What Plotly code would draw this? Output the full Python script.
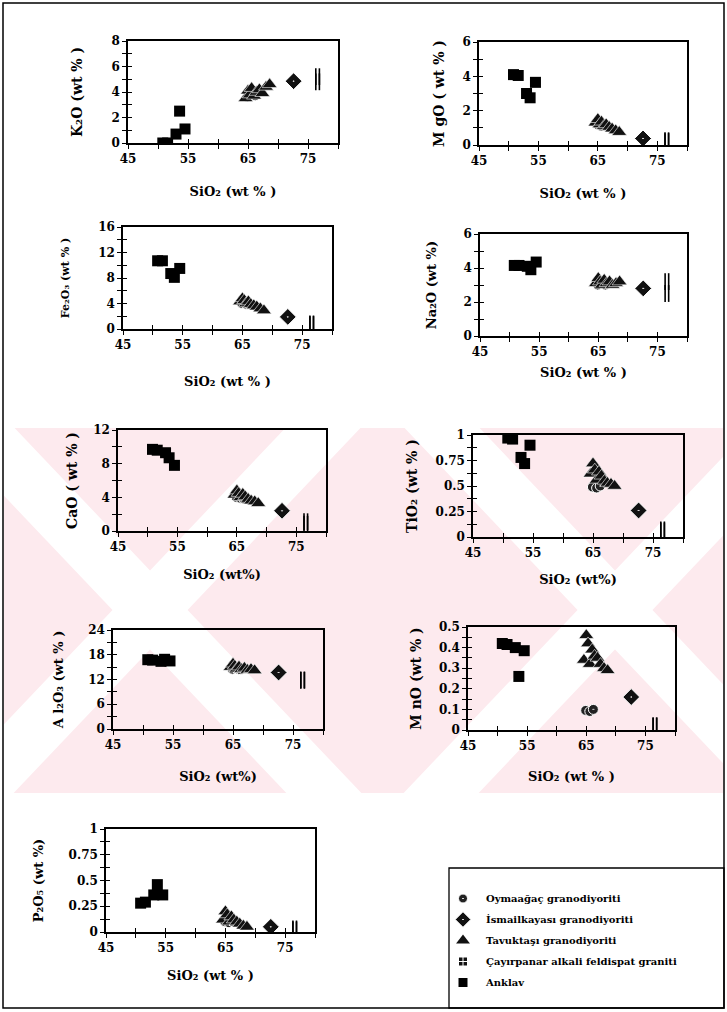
import plotly.graph_objects as go

W, H = 727, 1012

# ---------------- data ----------------
SIO2_OYM = [64.9, 65.6, 66.2]
SIO2_ISM = [72.6]
SIO2_TAV = [64.6, 65.0, 65.3, 65.6, 66.0, 66.4, 66.9, 67.4, 68.0, 68.6]
SIO2_CAY = [76.3, 76.9, 76.3, 76.9]
SIO2_ANK = [50.8, 51.6, 53.0, 53.6, 54.5]

K2O_OYM = [3.6, 3.8, 3.7]
K2O_ISM = [4.85]
K2O_TAV = [3.5, 4.1, 3.8, 4.3, 3.7, 4.0, 4.2, 3.9, 4.4, 4.6]
K2O_CAY = [4.8, 4.8, 5.2, 5.2]
K2O_ANK = [0.0, 0.0, 0.7, 2.5, 1.1]

MGO_OYM = [1.2, 1.1, 1.15]
MGO_ISM = [0.38]
MGO_TAV = [1.3, 1.5, 1.2, 1.35, 1.1, 1.2, 1.05, 0.95, 0.85, 0.75]
MGO_CAY = [0.2, 0.2, 0.25, 0.25]
MGO_ANK = [4.1, 4.05, 3.0, 2.75, 3.65]

FE2O3_OYM = [4.0, 3.9, 3.8]
FE2O3_ISM = [1.9]
FE2O3_TAV = [4.3, 4.8, 4.5, 4.0, 4.3, 3.9, 3.7, 3.5, 3.2, 2.9]
FE2O3_CAY = [0.7, 0.7, 0.8, 0.8]
FE2O3_ANK = [10.7, 10.7, 8.7, 8.1, 9.5]

NA2O_OYM = [3.0, 3.1, 3.0]
NA2O_ISM = [2.8]
NA2O_TAV = [3.1, 3.4, 3.2, 3.0, 3.3, 3.1, 3.2, 3.0, 3.1, 3.2]
NA2O_CAY = [2.5, 2.5, 3.2, 3.2]
NA2O_ANK = [4.15, 4.15, 4.1, 3.9, 4.35]

CAO_OYM = [4.0, 3.9, 3.8]
CAO_ISM = [2.4]
CAO_TAV = [4.3, 4.8, 4.5, 4.0, 4.4, 4.1, 3.8, 3.6, 3.5, 3.3]
CAO_CAY = [0.8, 0.8, 1.1, 1.1]
CAO_ANK = [9.7, 9.6, 9.3, 8.7, 7.8]

TIO2_OYM = [0.49, 0.48, 0.50]
TIO2_ISM = [0.26]
TIO2_TAV = [0.62, 0.72, 0.66, 0.56, 0.64, 0.60, 0.55, 0.53, 0.52, 0.50]
TIO2_CAY = [0.06, 0.06, 0.07, 0.07]
TIO2_ANK = [0.97, 0.96, 0.78, 0.72, 0.90]

AL2O3_OYM = [14.5, 14.6, 14.4]
AL2O3_ISM = [13.7]
AL2O3_TAV = [15.0, 15.8, 15.3, 14.6, 15.1, 14.5, 14.8, 14.3, 14.5, 14.2]
AL2O3_CAY = [11.8, 11.8, 11.9, 11.9]
AL2O3_ANK = [16.8, 16.7, 16.4, 16.9, 16.5]

MNO_OYM = [0.095, 0.09, 0.10]
MNO_ISM = [0.16]
MNO_TAV = [0.34, 0.46, 0.42, 0.32, 0.39, 0.36, 0.35, 0.32, 0.30, 0.29]
MNO_CAY = [0.02, 0.02, 0.02, 0.02]
MNO_ANK = [0.42, 0.415, 0.40, 0.26, 0.385]

P2O5_OYM = [0.10, 0.09, 0.10]
P2O5_ISM = [0.05]
P2O5_TAV = [0.12, 0.20, 0.17, 0.10, 0.15, 0.12, 0.10, 0.08, 0.06, 0.05]
P2O5_CAY = [0.02, 0.02, 0.03, 0.03]
P2O5_ANK = [0.28, 0.29, 0.36, 0.46, 0.36]

GROUPS = ["Oymaağaç granodiyoriti", "İsmailkayası granodiyoriti",
          "Tavuktaşı granodiyoriti", "Çayırpanar alkali feldispat graniti", "Anklav"]
SIO2 = [SIO2_OYM, SIO2_ISM, SIO2_TAV, SIO2_CAY, SIO2_ANK]

X_RANGE = [45, 80]

# ---------------- panel layout ----------------
FONT = "DejaVu Serif"
panels = [
    dict(vals=[K2O_OYM, K2O_ISM, K2O_TAV, K2O_CAY, K2O_ANK], xd=(128, 338), yd=(41, 143),
         yr=8, yt=[0, 2, 4, 6, 8], ym=1, ttl="K₂O (wt % )", ys=26,
         xt="SiO₂ (wt % )", xs=22, tfs=14),
    dict(vals=[MGO_OYM, MGO_ISM, MGO_TAV, MGO_CAY, MGO_ANK], xd=(479, 687), yd=(42, 145),
         yr=6, yt=[0, 2, 4, 6], ym=1, ttl="M gO ( wt % )", ys=15,
         xt="SiO₂ (wt % )", xs=22, tfs=14),
    dict(vals=[FE2O3_OYM, FE2O3_ISM, FE2O3_TAV, FE2O3_CAY, FE2O3_ANK], xd=(123, 332), yd=(227, 329),
         yr=16, yt=[0, 4, 8, 12, 16], ym=2, ttl="Fe₂O₃ (wt % )", ys=26,
         xt="SiO₂ (wt % )", xs=26, tfs=11),
    dict(vals=[NA2O_OYM, NA2O_ISM, NA2O_TAV, NA2O_CAY, NA2O_ANK], xd=(480, 687), yd=(234, 336),
         yr=6, yt=[0, 2, 4, 6], ym=1, ttl="Na₂O (wt %)", ys=24,
         xt="SiO₂ (wt % )", xs=10, tfs=13),
    dict(vals=[CAO_OYM, CAO_ISM, CAO_TAV, CAO_CAY, CAO_ANK], xd=(118, 326), yd=(430, 531),
         yr=12, yt=[0, 4, 8, 12], ym=2, ttl="CaO ( wt % )", ys=12,
         xt="SiO₂ (wt%)", xs=17, tfs=14),
    dict(vals=[TIO2_OYM, TIO2_ISM, TIO2_TAV, TIO2_CAY, TIO2_ANK], xd=(473, 683), yd=(435, 537),
         yr=1, yt=[0, 0.25, 0.5, 0.75, 1], ym=0.125, ttl="TiO₂ (wt % )", ys=15,
         xt="SiO₂ (wt%)", xs=16, tfs=14),
    dict(vals=[AL2O3_OYM, AL2O3_ISM, AL2O3_TAV, AL2O3_CAY, AL2O3_ANK], xd=(113, 323), yd=(630, 729),
         yr=24, yt=[0, 6, 12, 18, 24], ym=3, ttl="A l₂O₃ (wt % )", ys=22,
         xt="SiO₂ (wt%)", xs=21, tfs=13),
    dict(vals=[MNO_OYM, MNO_ISM, MNO_TAV, MNO_CAY, MNO_ANK], xd=(468, 675), yd=(627, 730),
         yr=0.5, yt=[0, 0.1, 0.2, 0.3, 0.4, 0.5], ym=0.05, ttl="M nO (wt % )", ys=14,
         xt="SiO₂ (wt % )", xs=20, tfs=14),
    dict(vals=[P2O5_OYM, P2O5_ISM, P2O5_TAV, P2O5_CAY, P2O5_ANK], xd=(106, 315), yd=(829, 932),
         yr=1, yt=[0, 0.25, 0.5, 0.75, 1], ym=0.125, ttl="P₂O₅ (wt %)", ys=22,
         xt="SiO₂ (wt % )", xs=17, tfs=13),
]

MARKERS = [
    dict(symbol="circle-dot", size=10, color="#222", line=dict(color="white", width=1)),
    dict(symbol="diamond-dot", size=13, color="#111", line=dict(color="white", width=1)),
    dict(symbol="triangle-up", size=13, color="#111", line=dict(color="white", width=0.6)),
    dict(symbol="line-ns", size=12, color="black", line=dict(color="black", width=1.6)),
    dict(symbol="square", size=11, color="black", line=dict(color="black", width=0)),
]
LEGEND_MARKERS = [
    dict(symbol="circle-dot", size=9, color="#222", line=dict(color="white", width=1)),
    dict(symbol="diamond-dot", size=12, color="#111", line=dict(color="white", width=1)),
    dict(symbol="triangle-up", size=12, color="#111", line=dict(color="white", width=0)),
    dict(symbol="square-cross", size=9, color="#111", line=dict(color="white", width=1)),
    dict(symbol="square", size=9, color="black", line=dict(color="black", width=0)),
]

fig = go.Figure()


def fmt(v):
    return f"{v:g}"


TL = 4
NP = len(panels)
for i, p in enumerate(panels):
    n = "" if i == 0 else str(i + 1)
    xa, ya = "x" + n, "y" + n
    for g in range(5):
        fig.add_trace(go.Scatter(x=SIO2[g], y=p["vals"][g], mode="markers", xaxis=xa, yaxis=ya,
                                 marker=MARKERS[g], showlegend=False, name=GROUPS[g],
                                 hoverinfo="skip"))
    axfont = dict(family=FONT, size=12, color="black", weight="bold")
    xdom = [p["xd"][0] / W, p["xd"][1] / W]
    ydom = [1 - p["yd"][1] / H, 1 - p["yd"][0] / H]
    yr = [0, p["yr"]]
    fig.update_layout(**{
        "xaxis" + n: dict(
            domain=xdom, range=X_RANGE, anchor=ya,
            showgrid=False, zeroline=False, showline=True, linecolor="black", linewidth=1.5,
            mirror=True, ticks="outside", ticklen=TL, tickwidth=1.3, tickcolor="black",
            tickmode="linear", tick0=45, dtick=10, tickfont=axfont,
            minor=dict(tick0=45, dtick=5, ticks="outside", ticklen=TL, tickwidth=1.3,
                       tickcolor="black", showgrid=False),
            title=dict(text=p["xt"], standoff=p["xs"],
                       font=dict(family=FONT, size=13, color="black", weight="bold")),
            automargin=False, fixedrange=True),
        "yaxis" + n: dict(
            domain=ydom, range=yr, anchor=xa,
            showgrid=False, zeroline=False, showline=True, linecolor="black", linewidth=1.5,
            mirror=True, ticks="outside", ticklen=TL, tickwidth=1.3, tickcolor="black",
            tickvals=p["yt"], ticktext=[fmt(v) for v in p["yt"]], tickfont=axfont,
            minor=dict(tick0=0, dtick=p["ym"], ticks="outside", ticklen=TL, tickwidth=1.3,
                       tickcolor="black", showgrid=False),
            title=dict(text=p["ttl"], standoff=p["ys"],
                       font=dict(family=FONT, size=p["tfs"], color="black", weight="bold")),
            automargin=False, fixedrange=True),
    })
    # overlay axes carrying the inner half of the crossing ticks
    m = str(NP + i + 1)
    fig.update_layout(**{
        "xaxis" + m: dict(
            domain=xdom, range=X_RANGE, anchor=ya, overlaying=xa,
            showgrid=False, zeroline=False, showline=False, showticklabels=False,
            ticks="inside", ticklen=TL, tickwidth=1.3, tickcolor="black",
            tickmode="linear", tick0=45, dtick=5, fixedrange=True, automargin=False),
        "yaxis" + m: dict(
            domain=ydom, range=yr, anchor=xa, overlaying=ya,
            showgrid=False, zeroline=False, showline=False, showticklabels=False,
            ticks="inside", ticklen=TL, tickwidth=1.3, tickcolor="black",
            tickmode="linear", tick0=0, dtick=p["ym"], fixedrange=True, automargin=False),
    })
    # invisible anchor traces so the overlay axes are drawn
    fig.add_trace(go.Scatter(x=[None], y=[None], xaxis="x" + m, yaxis="y" + n,
                             showlegend=False, hoverinfo="skip", mode="markers"))
    fig.add_trace(go.Scatter(x=[None], y=[None], xaxis="x" + n, yaxis="y" + m,
                             showlegend=False, hoverinfo="skip", mode="markers"))

# legend-only entries
for g in range(5):
    fig.add_trace(go.Scatter(x=[None], y=[None], mode="markers", marker=LEGEND_MARKERS[g],
                             name=GROUPS[g], legendgroup=str(g), showlegend=True,
                             xaxis="x", yaxis="y"))

# ---------------- decorations (watermark band, frames) ----------------
def pp(x, y):
    return f"{x / W:.5f},{1 - y / H:.5f}"


Y0, Y1 = 428, 793
shapes = [dict(type="rect", xref="paper", yref="paper", x0=4 / W, x1=723 / W,
               y0=1 - Y1 / H, y1=1 - Y0 / H, fillcolor="#fdeaee", line=dict(width=0),
               layer="below")]
K = 0.95
BW = 75
for cx, cy in [(150, 610), (615, 610), (-310, 610), (1075, 610)]:
    for s in (1, -1):
        xt = cx + s * (Y0 - cy) * K
        xb = cx + s * (Y1 - cy) * K
        path = ("M " + pp(xt - BW / 2, Y0) + " L " + pp(xt + BW / 2, Y0) + " L "
                + pp(xb + BW / 2, Y1) + " L " + pp(xb - BW / 2, Y1) + " Z")
        shapes.append(dict(type="path", xref="paper", yref="paper", path=path,
                           fillcolor="white", line=dict(width=0), layer="below"))
# outer frame and legend box
shapes.append(dict(type="rect", xref="paper", yref="paper", x0=3 / W, x1=724 / W,
                   y0=1 - 1008 / H, y1=1 - 3 / H, line=dict(color="black", width=1.5),
                   layer="above"))
shapes.append(dict(type="rect", xref="paper", yref="paper", x0=449 / W, x1=724 / W,
                   y0=1 - 1008 / H, y1=1 - 868 / H, line=dict(color="black", width=1.3),
                   layer="above"))

fig.update_layout(
    width=W, height=H, autosize=False,
    margin=dict(l=0, r=0, t=0, b=0),
    paper_bgcolor="white", plot_bgcolor="rgba(0,0,0,0)",
    shapes=shapes,
    showlegend=True,
    legend=dict(x=440 / W, y=1 - 884 / H, xanchor="left", yanchor="top",
                bgcolor="rgba(0,0,0,0)", borderwidth=0, tracegroupgap=2,
                itemwidth=36,
                font=dict(family=FONT, size=10, color="black", weight="bold")),
    font=dict(family=FONT, color="black"),
)

fig.write_html("out.html", config={"displayModeBar": False},
               post_script="document.body.style.margin='0';")
